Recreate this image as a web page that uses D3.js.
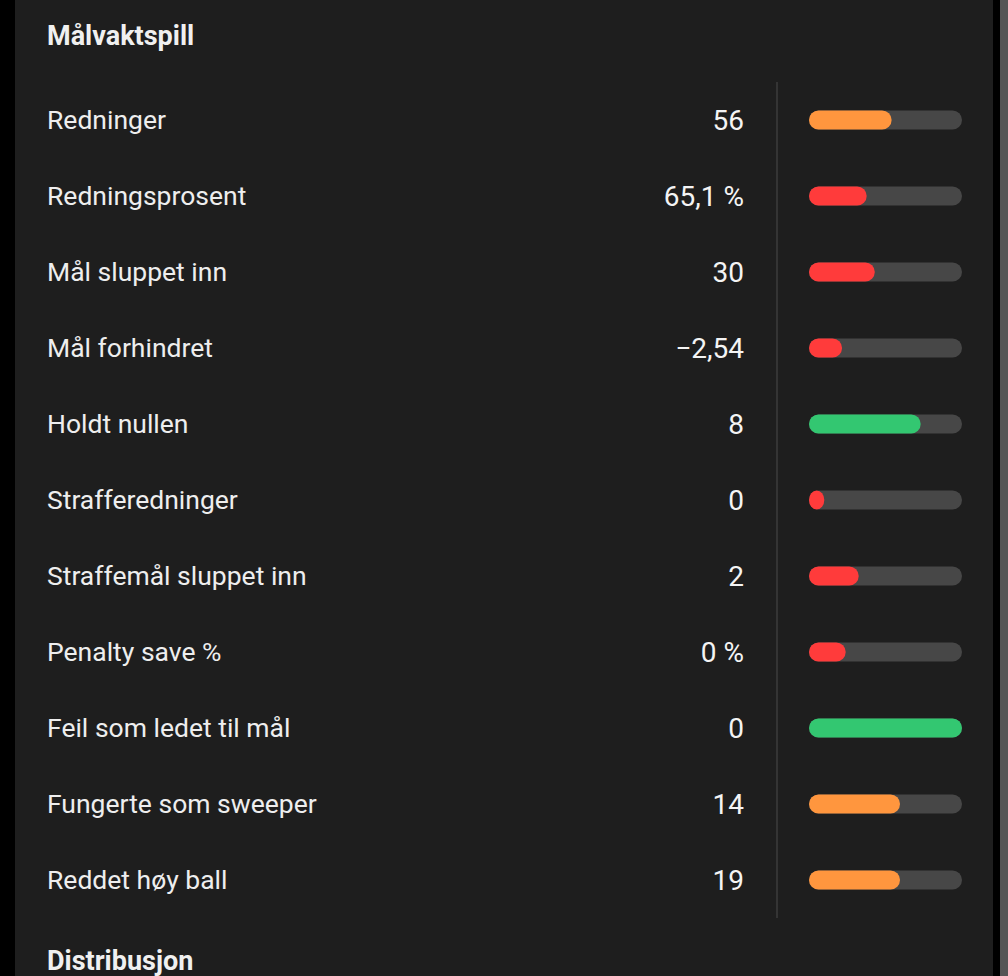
<!DOCTYPE html>
<html>
<head>
<meta charset="utf-8">
<script src="https://cdn.jsdelivr.net/npm/d3@7"></script>
<style>
  html, body { margin: 0; padding: 0; background: #000; }
  svg { display: block; font-family: Roboto, 'Noto Sans', sans-serif; }
</style>
</head>
<body>
<div id="chart"></div>
<script>
// Goalkeeping stats
const labels = [
  'Redninger', 'Redningsprosent', 'Mål sluppet inn', 'Mål forhindret',
  'Holdt nullen', 'Strafferedninger', 'Straffemål sluppet inn',
  'Penalty save %', 'Feil som ledet til mål', 'Fungerte som sweeper',
  'Reddet høy ball'
];
const valueTexts = ['56', '65,1 %', '30', '\u22122,54', '8', '0', '2', '0 %', '0', '14', '19'];
// percentile bar fill (0..1)
const fills = [0.54, 0.377, 0.43, 0.216, 0.73, 0.10, 0.325, 0.24, 1.0, 0.595, 0.595];
const ratings = ['mid', 'low', 'low', 'low', 'high', 'low', 'low', 'low', 'high', 'mid', 'mid'];

const W = 1008, H = 976;
const colors = { low: '#ff3b3b', mid: '#ff963e', high: '#33c771' };

const rows = labels.map((label, i) => ({
  label, value: valueTexts[i], fill: fills[i], rating: ratings[i]
}));

const svg = d3.select('#chart')
  .append('svg')
  .attr('width', W)
  .attr('height', H);

// page frame: black edges + scrollbar strip
svg.append('rect').attr('width', W).attr('height', H).attr('fill', '#000');
svg.append('rect').attr('x', 15).attr('width', 978).attr('height', H).attr('fill', '#1e1e1e');
svg.append('rect').attr('x', 1000).attr('width', 8).attr('height', H).attr('fill', '#555555');

const y = d3.scaleBand()
  .domain(labels)
  .range([82, 918]);

const x = d3.scaleLinear()
  .domain([0, 1])
  .range([809, 962]);

const barH = 19;

// section titles
svg.append('text')
  .attr('x', 47).attr('y', 45)
  .attr('fill', '#f0f0f0')
  .attr('font-size', '27px')
  .attr('font-weight', 700)
  .text('Målvaktspill');

svg.append('text')
  .attr('x', 47).attr('y', 970)
  .attr('fill', '#f0f0f0')
  .attr('font-size', '27px')
  .attr('font-weight', 700)
  .text('Distribusjon');

// divider
svg.append('line')
  .attr('x1', 777).attr('x2', 777)
  .attr('y1', y.range()[0]).attr('y2', y.range()[1])
  .attr('stroke', '#3c3c3c')
  .attr('stroke-width', 1.5);

const row = svg.append('g')
  .selectAll('g')
  .data(rows)
  .join('g')
  .attr('transform', d => `translate(0,${y(d.label) + y.bandwidth() / 2})`);

row.append('text')
  .attr('x', 47).attr('y', 9)
  .attr('fill', '#eeeeee')
  .attr('font-size', '26.5px')
  .text(d => d.label);

row.append('text')
  .attr('x', 744).attr('y', 9.5)
  .attr('text-anchor', 'end')
  .attr('fill', '#f4f4f4')
  .attr('font-size', '28px')
  .attr('font-weight', 400)
  .text(d => d.value);

// track
row.append('rect')
  .attr('x', x(0))
  .attr('y', -barH / 2)
  .attr('width', x(1) - x(0))
  .attr('height', barH)
  .attr('rx', barH / 2)
  .attr('fill', '#474747');

// fill
row.append('rect')
  .attr('x', x(0))
  .attr('y', -barH / 2)
  .attr('width', d => Math.max(x(d.fill) - x(0), barH * 0.8))
  .attr('height', barH)
  .attr('rx', barH / 2)
  .attr('fill', d => colors[d.rating]);
</script>
</body>
</html>
